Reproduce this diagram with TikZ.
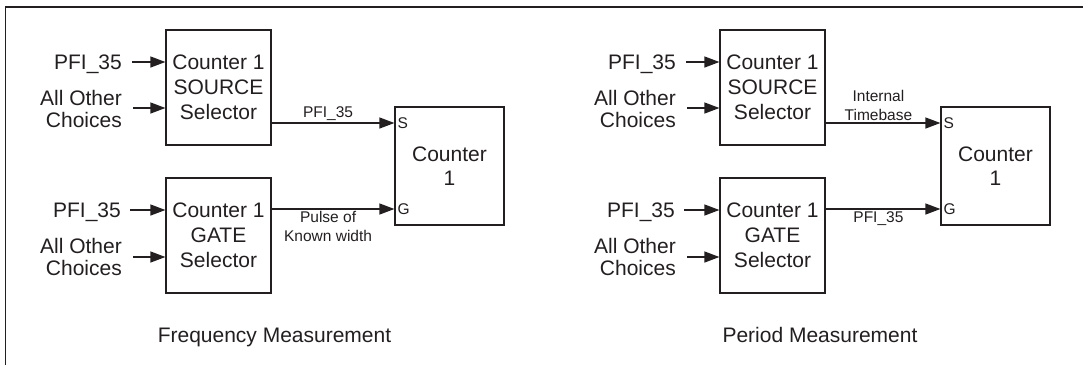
\documentclass[tikz,border=0pt]{standalone}
\usepackage{fontspec}
\setmainfont{Liberation Sans}
\usetikzlibrary{arrows.meta}
\usetikzlibrary{positioning}
\definecolor{DarkInk}{HTML}{231F20}

\begin{document}
\begin{tikzpicture}[x=1pt, y=-1pt, DarkInk,
  selbox/.style={draw, line width=1.2pt, minimum width=105pt, minimum height=115pt,
    inner sep=0pt, align=center, font=\fontsize{21}{25}\selectfont},
  ctrbox/.style={draw, line width=1.2pt, minimum width=109pt, minimum height=118pt,
    inner sep=0pt, align=center, font=\fontsize{21}{24}\selectfont},
  inlabel/.style={inner sep=0pt, align=right, font=\fontsize{21}{22.5}\selectfont},
  siglabel/.style={inner sep=2pt, align=center, font=\fontsize{15.5}{19}\selectfont},
  pinlabel/.style={inner sep=0pt, font=\fontsize{15.5}{19}\selectfont},
  sig/.style={line width=1.2pt, -{Triangle[length=15pt,width=11pt]}}]

  \useasboundingbox (0,0) rectangle (1083,365);

  % frame
  \draw[line width=2pt] (5,7) -- (1083,7);
  \draw[line width=1pt] (5.5,6) -- (5.5,365);

  \foreach \n/\off/\cx/\tx/\srclab/\gatelab/\title in {%
    A/0/449.5/274.5/{PFI\_35}/{Pulse of\\Known width}/{Frequency Measurement},%
    B/554/441.5/266/{Internal\\Timebase}/{PFI\_35}/{Period Measurement}}{%
    \begin{scope}[xshift=\off pt]
      \node[selbox] (src\n) at (218.5,87.5) {Counter 1\\SOURCE\\Selector};
      \node[selbox] (gate\n) at (218.5,235.5) {Counter 1\\GATE\\Selector};
      \node[ctrbox] (ctr\n) at (\cx,166) {Counter\\1};

      % inputs of the selectors
      \node[inlabel, anchor=base east] (pfiS\n) at (122,69) {PFI\_35};
      \node[inlabel, anchor=east] (othS\n) at (122,109) {All Other\\Choices};
      \node[inlabel, anchor=base east] (pfiG\n) at (121,217) {PFI\_35};
      \node[inlabel, anchor=east] (othG\n) at (122,257) {All Other\\Choices};
      \coordinate (inPS\n) at (132,62);
      \coordinate (inOS\n) at (133,108);
      \coordinate (inPG\n) at (130,210);
      \coordinate (inOG\n) at (133,257);
      \draw[sig] (inPS\n) -- (inPS\n -| src\n.west);
      \draw[sig] (inOS\n) -- (inOS\n -| src\n.west);
      \draw[sig] (inPG\n) -- (inPG\n -| gate\n.west);
      \draw[sig] (inOG\n) -- (inOG\n -| gate\n.west);

      % selectors to counter
      \path (ctr\n.west) ++(0,-43) coordinate (S\n);
      \path (ctr\n.west) ++(0,43) coordinate (G\n);
      \draw[sig] (src\n.east |- S\n) -- node[siglabel, above, pos=0.46] {\srclab} (S\n);
      \draw[sig] (gate\n.east |- G\n) -- node[siglabel, below, pos=0.46] {\gatelab} (G\n);
      \node[pinlabel, right=3pt of S\n] (Slab\n) {S};
      \node[pinlabel, right=3pt of G\n] (Glab\n) {G};

      \node[inlabel, anchor=base] (title\n) at (\tx,342) {\title};
    \end{scope}
  }
\end{tikzpicture}
\end{document}
